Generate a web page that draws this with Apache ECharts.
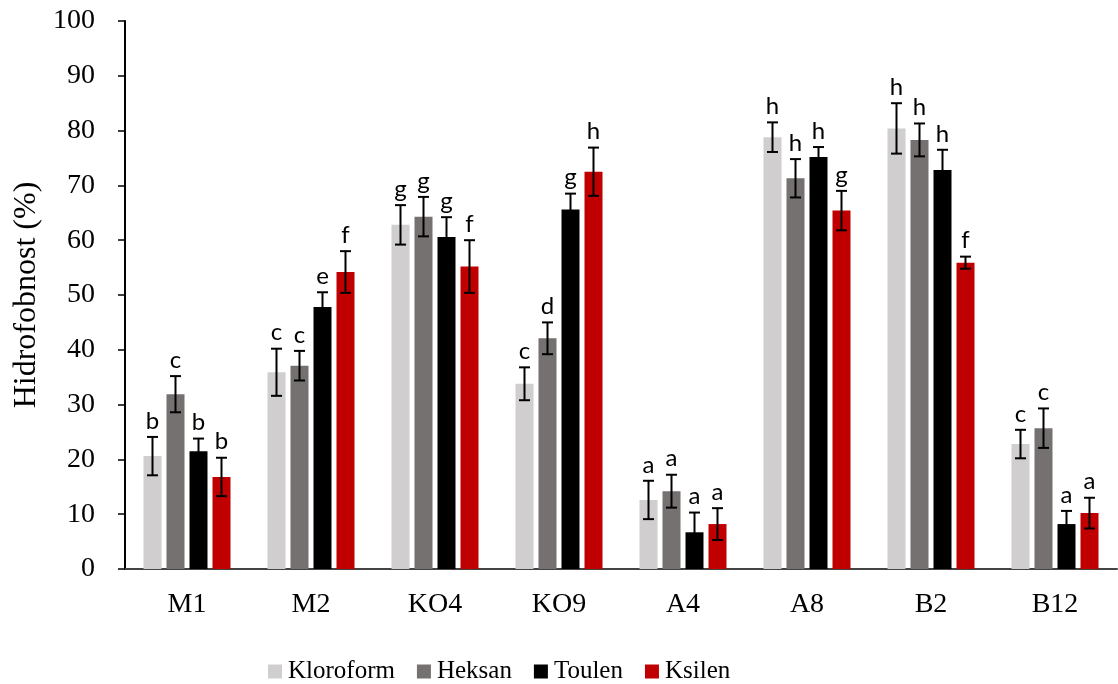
<!DOCTYPE html>
<html><head><meta charset="utf-8">
<script src="https://cdn.jsdelivr.net/npm/echarts@6/dist/echarts.min.js"></script>
<style>html,body{margin:0;padding:0;background:#fff}#c{width:1118px;height:684px}</style>
</head><body><div id="c"></div>
<script>
const categories = ['M1','M2','KO4','KO9','A4','A8','B2','B12'];
const seriesNames = ['Kloroform','Heksan','Toulen','Ksilen'];
const kloroform = [20.6, 35.9, 62.8, 33.8, 12.6, 78.8, 80.4, 22.8];
const heksan    = [31.9, 37.1, 64.3, 42.1, 14.2, 71.3, 78.3, 25.7];
const toulen    = [21.5, 47.8, 60.6, 65.6, 6.7, 75.2, 72.8, 8.2];
const ksilen    = [16.8, 54.2, 55.2, 72.5, 8.2, 65.4, 55.9, 10.2];
const errKloroform = [3.5, 4.3, 3.6, 3.0, 3.5, 2.7, 4.6, 2.6];
const errHeksan    = [3.3, 2.7, 3.6, 2.9, 3.0, 3.5, 3.0, 3.6];
const errToulen    = [2.3, 2.7, 3.6, 2.9, 3.6, 1.8, 3.7, 2.4];
const errKsilen    = [3.5, 3.8, 4.8, 4.4, 2.9, 3.6, 1.1, 2.8];
const lettersKloroform = ['b','c','g','c','a','h','h','c'];
const lettersHeksan    = ['c','c','g','d','a','h','h','c'];
const lettersToulen    = ['b','e','g','g','a','h','h','a'];
const lettersKsilen    = ['b','f','f','h','a','g','f','a'];
const yTicks = [0,10,20,30,40,50,60,70,80,90,100];

const colors = ['#D0CECE','#767171','#000000','#C00000'];
const values = [kloroform, heksan, toulen, ksilen];
const errs = [errKloroform, errHeksan, errToulen, errKsilen];
const letters = [lettersKloroform, lettersHeksan, lettersToulen, lettersKsilen];
const BW = 18, GAP = 5;
const SERIF = 'Liberation Serif';

const series = [];
values.forEach((v, i) => {
  series.push({
    name: seriesNames[i], type: 'bar', data: v, barWidth: BW, barGap: (GAP/BW*100)+'%',
    itemStyle: {color: colors[i]}, z: 2
  });
});
values.forEach((v, i) => {
  series.push({
    name: seriesNames[i] + '_err', type: 'custom', z: 5,
    data: v.map((val, j) => [j, val, errs[i][j]]),
    renderItem: function (params, api) {
      const x = api.value(0), y = api.value(1), e = api.value(2);
      const lt = letters[i][params.dataIndex];
      const off = (i - 1.5) * (BW + GAP);
      const top = api.coord([x, y + e]);
      const bot = api.coord([x, y - e]);
      const cx = top[0] + off;
      const cap = 5.5;
      const st = {stroke: '#000', lineWidth: 2};
      return {type: 'group', children: [
        {type: 'line', shape: {x1: cx, y1: top[1], x2: cx, y2: bot[1]}, style: st},
        {type: 'line', shape: {x1: cx - cap, y1: top[1], x2: cx + cap, y2: top[1]}, style: st},
        {type: 'line', shape: {x1: cx - cap, y1: bot[1], x2: cx + cap, y2: bot[1]}, style: st},
        {type: 'text', style: {text: lt, x: cx, y: top[1] - 4, textAlign: 'center', textVerticalAlign: 'bottom',
          font: '24px Lato', fill: '#000'}}
      ]};
    }
  });
});

const chart = echarts.init(document.getElementById('c'));
chart.setOption({
  animation: false,
  grid: {left: 125, right: 1, top: 21, bottom: 115, containLabel: false},
  legend: {
    data: seriesNames, left: 263, top: 654, itemWidth: 14, itemHeight: 14, itemGap: 22,
    icon: 'rect',
    textStyle: {fontFamily: SERIF, fontSize: 25, color: '#000', padding: [0,0,0,1]}
  },
  xAxis: {
    type: 'category', data: categories,
    axisLine: {lineStyle: {color: '#444', width: 2}},
    axisTick: {show: false},
    axisLabel: {fontFamily: SERIF, fontSize: 28, color: '#000', margin: 22}
  },
  yAxis: {
    type: 'value', min: 0, max: 100, interval: 10,
    name: 'Hidrofobnost (%)', nameLocation: 'middle', nameGap: 82,
    nameTextStyle: {fontFamily: SERIF, fontSize: 32, color: '#000'},
    axisLine: {show: true, lineStyle: {color: '#000', width: 2}},
    axisTick: {show: true, length: 7, lineStyle: {color: '#000', width: 1.5}},
    splitLine: {show: false},
    axisLabel: {fontFamily: SERIF, fontSize: 28, color: '#000', margin: 30,
      formatter: v => yTicks.includes(v) ? String(v) : ''}
  },
  series: series
});
</script></body></html>
